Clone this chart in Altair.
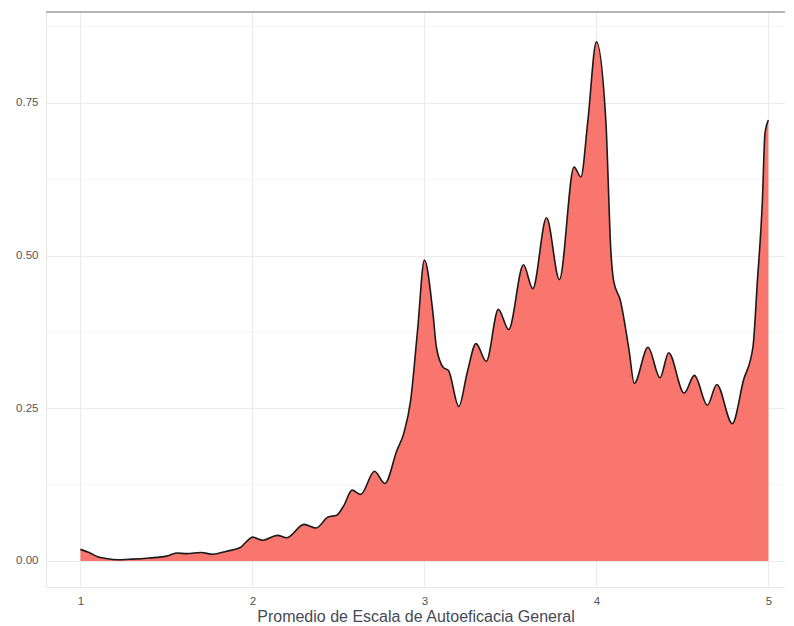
import altair as alt
import pandas as pd

# Density curve
xs = [1.00, 1.05, 1.10, 1.15, 1.22, 1.30, 1.40, 1.50, 1.56, 1.62, 1.70, 1.77, 1.85,
      1.93, 1.97, 2.00, 2.06, 2.145, 2.20, 2.30, 2.37, 2.44, 2.49, 2.53, 2.58, 2.63,
      2.71, 2.77, 2.84, 2.88, 2.92, 2.96, 3.00, 3.05, 3.07, 3.11, 3.14, 3.20, 3.25,
      3.30, 3.36, 3.43, 3.49, 3.576, 3.63, 3.71, 3.785, 3.87, 3.91, 3.95, 4.00, 4.055,
      4.085, 4.10, 4.14, 4.19, 4.22, 4.30, 4.37, 4.42, 4.51, 4.57, 4.645, 4.70, 4.79,
      4.855, 4.91, 4.935, 4.965, 4.98, 5.00]
ys = [0.019, 0.014, 0.007, 0.004, 0.002, 0.003, 0.005, 0.008, 0.013, 0.012, 0.014, 0.011, 0.016,
      0.022, 0.033, 0.039, 0.034, 0.042, 0.038, 0.060, 0.054, 0.072, 0.075, 0.090, 0.116, 0.109,
      0.147, 0.127, 0.181, 0.209, 0.263, 0.377, 0.493, 0.405, 0.350, 0.317, 0.312, 0.253, 0.310,
      0.356, 0.327, 0.412, 0.379, 0.485, 0.446, 0.562, 0.461, 0.645, 0.629, 0.720, 0.850, 0.720,
      0.503, 0.459, 0.426, 0.345, 0.291, 0.350, 0.300, 0.341, 0.275, 0.304, 0.255, 0.289, 0.225,
      0.296, 0.350, 0.454, 0.590, 0.700, 0.722]

x_ticks = [1, 2, 3, 4, 5]
y_ticks = [0.0, 0.25, 0.50, 0.75]
y_minor = [0.125, 0.375, 0.625, 0.875]
x_title = "Promedio de Escala de Autoeficacia General"

df = pd.DataFrame({"x": xs, "y": ys})
minor_df = pd.DataFrame({"m": y_minor})

W, H = 739, 575
xscale = alt.Scale(domain=[0.8, 5.0965], nice=False, zero=False)
yscale = alt.Scale(domain=[-0.0426, 0.899], nice=False, zero=False)

font = "Liberation Sans"

minor = alt.Chart(minor_df).mark_rule(color="#F2F2F2", strokeWidth=0.8).encode(
    y=alt.Y("m:Q", scale=yscale)
)

area = alt.Chart(df).mark_area(color="#F8766D", opacity=1, interpolate="monotone").encode(
    x=alt.X("x:Q", scale=xscale,
            axis=alt.Axis(values=x_ticks, format="d", title=x_title, grid=True,
                          ticks=False, tickSize=0, domain=False, labelPadding=8,
                          titlePadding=2)),
    y=alt.Y("y:Q", scale=yscale,
            axis=alt.Axis(values=y_ticks, format=".2f", title=None, grid=True,
                          ticks=False, tickSize=0, domain=False, labelPadding=8)),
)

line = alt.Chart(df).mark_line(color="#1a1a1a", strokeWidth=1.6, interpolate="monotone").encode(
    x=alt.X("x:Q", scale=xscale),
    y=alt.Y("y:Q", scale=yscale),
)

top = alt.Chart(minor_df).mark_rule(color="#B5B5B5", strokeWidth=2).encode(
    y=alt.value(0), x=alt.value(0), x2=alt.value(W)
)

chart = alt.layer(minor, area, line, top).properties(
    width=W, height=H,
    autosize=alt.AutoSizeParams(type="none"),
    padding={"left": 38, "top": 4, "right": 0, "bottom": 38},
    background="white",
).configure_view(
    stroke="#E6E6E6", strokeWidth=1
).configure_axis(
    gridColor="#EBEBEB", gridWidth=1,
    labelFont=font, labelFontSize=11.5, labelColor="#555555",
    titleFont=font, titleFontSize=16, titleColor="#454a55", titleFontWeight="normal",
)

chart.save("out.html", embed_options={"renderer": "svg", "actions": False})
